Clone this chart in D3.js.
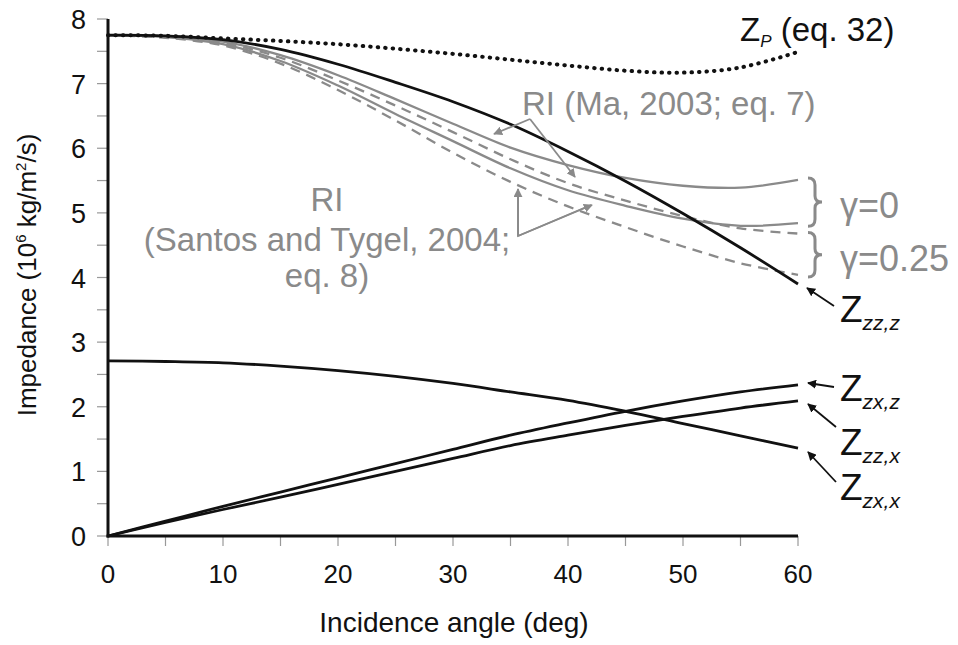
<!DOCTYPE html>
<html><head><meta charset="utf-8">
<script src="https://cdn.jsdelivr.net/npm/d3@7"></script>
<style>body{margin:0;background:#fff}svg{display:block}text{font-family:"Liberation Sans",Arial,sans-serif}</style>
</head><body><svg id="c" width="958" height="645"></svg>
<script>
const angles = [0,5,10,15,20,25,30,35,40,45,50,55,60];
const zP      = [7.75,7.74,7.70,7.66,7.61,7.54,7.46,7.37,7.28,7.20,7.17,7.25,7.49];
const zZZz    = [7.75,7.74,7.68,7.53,7.30,7.02,6.72,6.37,5.95,5.49,4.99,4.46,3.90];
const maG0    = [7.75,7.73,7.65,7.44,7.13,6.76,6.38,6.01,5.74,5.54,5.42,5.39,5.51];
const maG25   = [7.75,7.72,7.63,7.40,7.05,6.66,6.25,5.83,5.46,5.19,4.95,4.76,4.68];
const stG0    = [7.75,7.72,7.61,7.35,6.97,6.53,6.11,5.69,5.35,5.11,4.91,4.80,4.84];
const stG25   = [7.75,7.71,7.59,7.31,6.90,6.43,5.93,5.48,5.10,4.78,4.48,4.22,4.04];
const zZZx    = [2.71,2.70,2.68,2.63,2.56,2.47,2.36,2.23,2.10,1.93,1.74,1.55,1.36];
const zZXz    = [0,0.23,0.46,0.68,0.90,1.12,1.34,1.56,1.75,1.93,2.09,2.23,2.34];
const zZXx    = [0,0.21,0.41,0.60,0.80,1.00,1.20,1.40,1.56,1.71,1.85,1.98,2.09];
const xTicks = [0,10,20,30,40,50,60];
const yTicks = [0,1,2,3,4,5,6,7,8];

const svg = d3.select("#c");
const x = d3.scaleLinear().domain([0,60]).range([108,798]);
const y = d3.scaleLinear().domain([0,8]).range([536,19]);
const GRAY = "#8a8a8a";

// ticks
const tg = svg.append("g");
d3.range(0,8.01,0.5).forEach(v=>{
  tg.append("line").attr("x1",97).attr("x2",108).attr("y1",y(v)).attr("y2",y(v)).attr("stroke","#999").attr("stroke-width",1.2);
});
d3.range(0,60.01,5).forEach(v=>{
  tg.append("line").attr("x1",x(v)).attr("x2",x(v)).attr("y1",536).attr("y2",546).attr("stroke","#999").attr("stroke-width",1.2);
});
yTicks.forEach(v=>{
  svg.append("text").attr("x",86).attr("y",y(v)+10).attr("text-anchor","end").attr("font-size",27).attr("fill","#111").text(v);
});
xTicks.forEach(v=>{
  svg.append("text").attr("x",x(v)).attr("y",583).attr("text-anchor","middle").attr("font-size",26).attr("fill","#111").text(v);
});

const line = d3.line().x((d,i)=>x(angles[i])).y(d=>y(d)).curve(d3.curveCatmullRom.alpha(0.5));
function draw(data, color, w, dash){
  const p = svg.append("path").attr("d",line(data)).attr("fill","none").attr("stroke",color).attr("stroke-width",w).attr("stroke-linecap", dash==="dot"?"round":"butt");
  if(dash==="dot") p.attr("stroke-dasharray","0.5,7").attr("stroke-width",4);
  else if(dash) p.attr("stroke-dasharray",dash);
}
draw(maG0, GRAY, 2.3, null);
draw(stG0, GRAY, 2.3, null);
draw(maG25, GRAY, 2.3, "10,7");
draw(stG25, GRAY, 2.3, "10,7");
draw(zP, "#111", 3, "dot");
draw(zZZz, "#111", 2.8, null);
draw(zZZx, "#111", 2.8, null);
draw(zZXz, "#111", 2.8, null);
draw(zZXx, "#111", 2.8, null);

// axes
svg.append("line").attr("x1",108).attr("x2",108).attr("y1",y(8)).attr("y2",537.5).attr("stroke","#111").attr("stroke-width",3);
svg.append("line").attr("x1",106.5).attr("x2",x(60)).attr("y1",536).attr("y2",536).attr("stroke","#111").attr("stroke-width",3);

// axis titles
svg.append("text").attr("x",454).attr("y",632).attr("text-anchor","middle").attr("font-size",28).attr("fill","#111").text("Incidence angle (deg)");
const yl = svg.append("text").attr("transform","translate(36,275) rotate(-90)").attr("text-anchor","middle").attr("font-size",26).attr("fill","#111");
yl.append("tspan").text("Impedance (10");
yl.append("tspan").attr("dy",-10).attr("font-size",15).text("6");
yl.append("tspan").attr("dy",10).text(" kg/m");
yl.append("tspan").attr("dy",-10).attr("font-size",15).text("2");
yl.append("tspan").attr("dy",10).text("/s)");

// markers
const defs = svg.append("defs");
function marker(id,color){
  defs.append("marker").attr("id",id).attr("viewBox","0 0 10 10").attr("refX",9).attr("refY",5)
    .attr("markerWidth",5).attr("markerHeight",5).attr("orient","auto").attr("markerUnits","strokeWidth")
    .append("path").attr("d","M0,0 L10,5 L0,10 z").attr("fill",color);
}
marker("ab","#111"); marker("ag",GRAY);
function arrow(x1,y1,x2,y2,id,color,w){
  svg.append("line").attr("x1",x1).attr("y1",y1).attr("x2",x2).attr("y2",y2).attr("stroke",color).attr("stroke-width",w).attr("marker-end",`url(#${id})`);
}

// Z_P label
const zp = svg.append("text").attr("x",740).attr("y",41).attr("font-size",33).attr("fill","#111");
zp.append("tspan").text("Z");
zp.append("tspan").attr("dy",6).attr("font-size",17).attr("font-style","italic").text("P");
zp.append("tspan").attr("dy",-6).text(" (eq. 32)");

// RI Ma
svg.append("text").attr("x",522).attr("y",115).attr("font-size",33).attr("fill",GRAY).text("RI (Ma, 2003; eq. 7)");
arrow(530,119,494,134,"ag",GRAY,1.8);
arrow(530,119,575,177,"ag",GRAY,1.8);

// RI Santos
const st = svg.append("text").attr("font-size",33).attr("fill",GRAY).attr("text-anchor","middle");
st.append("tspan").attr("x",327).attr("y",211).text("RI");
st.append("tspan").attr("x",327).attr("y",251).text("(Santos and Tygel, 2004;");
st.append("tspan").attr("x",327).attr("y",287).text("eq. 8)");
svg.append("polyline").attr("points","518,190 518,236 591,205").attr("fill","none").attr("stroke",GRAY).attr("stroke-width",1.8);
arrow(518,236,518,189,"ag",GRAY,1.8);
arrow(518,236,592,205,"ag",GRAY,1.8);

// braces
function brace(xb, y1, y2){
  const w=14, m=(y1+y2)/2, xm = xb+w/2;
  const d = `M${xb},${y1} Q${xm},${y1} ${xm},${y1+7} L${xm},${m-6} Q${xm},${m} ${xb+w},${m} Q${xm},${m} ${xm},${m+6} L${xm},${y2-7} Q${xm},${y2} ${xb},${y2}`;
  svg.append("path").attr("d",d).attr("fill","none").attr("stroke",GRAY).attr("stroke-width",3);
}
brace(808, y(maG0[12])-2, y(stG0[12])+3);
brace(808, y(maG25[12])-1, y(stG25[12])+2);
svg.append("text").attr("x",840).attr("y",218).attr("font-size",36).attr("fill",GRAY).text("γ=0");
svg.append("text").attr("x",840).attr("y",271).attr("font-size",36).attr("fill",GRAY).text("γ=0.25");

// Z labels
function zlabel(xl, yb, sub){
  const t = svg.append("text").attr("x",xl).attr("y",yb).attr("font-size",37).attr("fill","#111");
  t.append("tspan").text("Z");
  t.append("tspan").attr("dy",8).attr("font-size",21).attr("font-style","italic").text(sub);
}
zlabel(840,322,"zz,z");
zlabel(840,401,"zx,z");
zlabel(840,455,"zz,x");
zlabel(840,500,"zx,x");
arrow(834,306,807,288,"ab","#111",1.8);
arrow(834,387,808,383,"ab","#111",1.8);
arrow(836,427,808,404,"ab","#111",1.8);
arrow(836,482,808,452,"ab","#111",1.8);
</script></body></html>
